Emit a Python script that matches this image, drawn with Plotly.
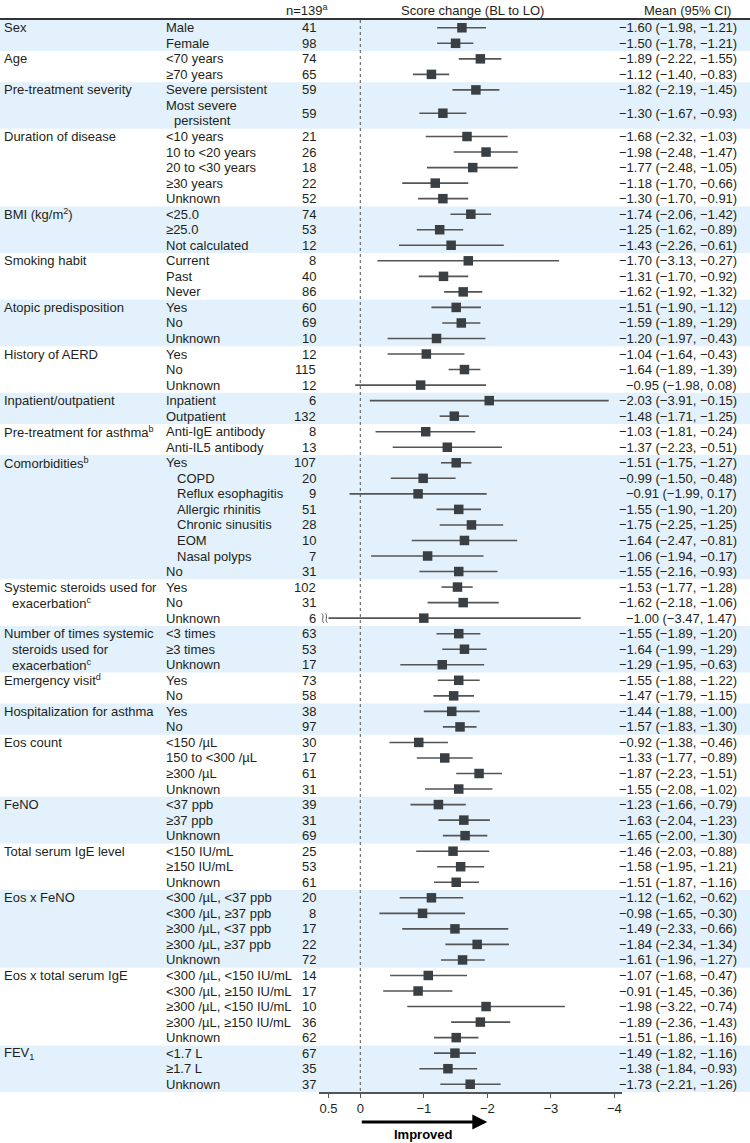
import plotly.graph_objects as go

# ---------------- data ----------------
group_labels = [
    "Sex", "Age", "Pre-treatment severity", "Duration of disease",
    "BMI (kg/m<sup>2</sup>)", "Smoking habit", "Atopic predisposition",
    "History of AERD", "Inpatient/outpatient", "Pre-treatment for asthma<sup>b</sup>",
    "Comorbidities<sup>b</sup>",
    "Systemic steroids used for|exacerbation<sup>c</sup>",
    "Number of times systemic|steroids used for|exacerbation<sup>c</sup>",
    "Emergency visit<sup>d</sup>", "Hospitalization for asthma", "Eos count",
    "FeNO", "Total serum IgE level", "Eos x FeNO", "Eos x total serum IgE",
    "FEV<sub>1</sub>",
]
group_sizes = [2, 2, 2, 5, 3, 3, 3, 3, 2, 2, 8, 3, 3, 2, 2, 4, 3, 3, 5, 5, 3]

subgroups = [
    "Male", "Female",
    "<70 years", "≥70 years",
    "Severe persistent", "Most severe persistent",
    "<10 years", "10 to <20 years", "20 to <30 years", "≥30 years", "Unknown",
    "<25.0", "≥25.0", "Not calculated",
    "Current", "Past", "Never",
    "Yes", "No", "Unknown",
    "Yes", "No", "Unknown",
    "Inpatient", "Outpatient",
    "Anti-IgE antibody", "Anti-IL5 antibody",
    "Yes", "COPD", "Reflux esophagitis", "Allergic rhinitis", "Chronic sinusitis",
    "EOM", "Nasal polyps", "No",
    "Yes", "No", "Unknown",
    "<3 times", "≥3 times", "Unknown",
    "Yes", "No",
    "Yes", "No",
    "<150 /µL", "150 to <300 /µL", "≥300 /µL", "Unknown",
    "<37 ppb", "≥37 ppb", "Unknown",
    "<150 IU/mL", "≥150 IU/mL", "Unknown",
    "<300 /µL, <37 ppb", "<300 /µL, ≥37 ppb", "≥300 /µL, <37 ppb", "≥300 /µL, ≥37 ppb", "Unknown",
    "<300 /µL, <150 IU/mL", "<300 /µL, ≥150 IU/mL", "≥300 /µL, <150 IU/mL", "≥300 /µL, ≥150 IU/mL", "Unknown",
    "<1.7 L", "≥1.7 L", "Unknown",
]

n_vals = [
    41, 98,
    74, 65,
    59, 59,
    21, 26, 18, 22, 52,
    74, 53, 12,
    8, 40, 86,
    60, 69, 10,
    12, 115, 12,
    6, 132,
    8, 13,
    107, 20, 9, 51, 28, 10, 7, 31,
    102, 31, 6,
    63, 53, 17,
    73, 58,
    38, 97,
    30, 17, 61, 31,
    39, 31, 69,
    25, 53, 61,
    20, 8, 17, 22, 72,
    14, 17, 10, 36, 62,
    67, 35, 37,
]

means = [
    -1.60, -1.50,
    -1.89, -1.12,
    -1.82, -1.30,
    -1.68, -1.98, -1.77, -1.18, -1.30,
    -1.74, -1.25, -1.43,
    -1.70, -1.31, -1.62,
    -1.51, -1.59, -1.20,
    -1.04, -1.64, -0.95,
    -2.03, -1.48,
    -1.03, -1.37,
    -1.51, -0.99, -0.91, -1.55, -1.75, -1.64, -1.06, -1.55,
    -1.53, -1.62, -1.00,
    -1.55, -1.64, -1.29,
    -1.55, -1.47,
    -1.44, -1.57,
    -0.92, -1.33, -1.87, -1.55,
    -1.23, -1.63, -1.65,
    -1.46, -1.58, -1.51,
    -1.12, -0.98, -1.49, -1.84, -1.61,
    -1.07, -0.91, -1.98, -1.89, -1.51,
    -1.49, -1.38, -1.73,
]

ci_low = [
    -1.98, -1.78,
    -2.22, -1.40,
    -2.19, -1.67,
    -2.32, -2.48, -2.48, -1.70, -1.70,
    -2.06, -1.62, -2.26,
    -3.13, -1.70, -1.92,
    -1.90, -1.89, -1.97,
    -1.64, -1.89, -1.98,
    -3.91, -1.71,
    -1.81, -2.23,
    -1.75, -1.50, -1.99, -1.90, -2.25, -2.47, -1.94, -2.16,
    -1.77, -2.18, -3.47,
    -1.89, -1.99, -1.95,
    -1.88, -1.79,
    -1.88, -1.83,
    -1.38, -1.77, -2.23, -2.08,
    -1.66, -2.04, -2.00,
    -2.03, -1.95, -1.87,
    -1.62, -1.65, -2.33, -2.34, -1.96,
    -1.68, -1.45, -3.22, -2.36, -1.86,
    -1.82, -1.84, -2.21,
]

ci_high = [
    -1.21, -1.21,
    -1.55, -0.83,
    -1.45, -0.93,
    -1.03, -1.47, -1.05, -0.66, -0.91,
    -1.42, -0.89, -0.61,
    -0.27, -0.92, -1.32,
    -1.12, -1.29, -0.43,
    -0.43, -1.39, 0.08,
    -0.15, -1.25,
    -0.24, -0.51,
    -1.27, -0.48, 0.17, -1.20, -1.25, -0.81, -0.17, -0.93,
    -1.28, -1.06, 1.47,
    -1.20, -1.29, -0.63,
    -1.22, -1.15,
    -1.00, -1.30,
    -0.46, -0.89, -1.51, -1.02,
    -0.79, -1.23, -1.30,
    -0.88, -1.21, -1.16,
    -0.62, -0.30, -0.66, -1.34, -1.27,
    -0.47, -0.36, -0.74, -1.43, -1.16,
    -1.16, -0.93, -1.26,
]

x_ticks = [0.5, 0, -1, -2, -3, -4]
x_tick_text = ["0.5", "0", "−1", "−2", "−3", "−4"]
header_n = "n=139<sup>a</sup>"
header_plot = "Score change (BL to LO)"
header_ci = "Mean (95% CI)"
arrow_label = "Improved"

comorbidity_items = {"COPD", "Reflux esophagitis", "Allergic rhinitis",
                     "Chronic sinusitis", "EOM", "Nasal polyps"}

# ---------------- layout constants ----------------
W, H = 750, 1143
TOP_PX, BOT_PX = 20, 1092
X_RANGE = [0.65, -4.12]
BREAK_X = 0.5
FONT = "Liberation Sans, Arial, sans-serif"
TXT = "#231F20"
BAND = "#E2F1FB"
FS = 13


def px(x):
    return x / W


def py(y):
    return 1 - y / H


def mfmt(v):
    return f"{v:.2f}".replace("-", "−")


# row geometry (in row units)
units = [2 if s == "Most severe persistent" else 1 for s in subgroups]
starts = []
acc = 0
for u in units:
    starts.append(acc)
    acc += u
total_units = acc
centers = [s + u / 2 for s, u in zip(starts, units)]

fig = go.Figure()

# CI lines
lx, ly = [], []
breaks = []
for i, (lo, hi) in enumerate(zip(ci_low, ci_high)):
    h = hi
    if hi > X_RANGE[0]:
        h = BREAK_X
        breaks.append(i)
    lx += [lo, h, None]
    ly += [centers[i], centers[i], None]
fig.add_trace(go.Scatter(x=lx, y=ly, mode="lines",
                         line=dict(color="#555555", width=1.6),
                         hoverinfo="skip", showlegend=False))
fig.add_trace(go.Scatter(x=means, y=centers, mode="markers",
                         marker=dict(symbol="square", size=9.5, color="#3A3F43",
                                     line=dict(width=0)),
                         hoverinfo="skip", showlegend=False))

shapes = []
annotations = []

# bands
g_start = 0
for gi, (gl, gs) in enumerate(zip(group_labels, group_sizes)):
    rows = list(range(g_start, g_start + gs))
    u0 = starts[rows[0]]
    u1 = starts[rows[-1]] + units[rows[-1]]
    if gi % 2 == 0:
        shapes.append(dict(type="rect", xref="paper", yref="y", x0=0, x1=1,
                           y0=u0, y1=u1, fillcolor=BAND, line=dict(width=0),
                           layer="below"))
    # group label lines
    for li, line in enumerate(gl.split("|")):
        annotations.append(dict(xref="paper", yref="y", x=px(2 if li == 0 else 10),
                                y=centers[rows[li]] if units[rows[li]] == 1 else starts[rows[li]] + 0.5,
                                text=line, showarrow=False, xanchor="left", yanchor="middle",
                                font=dict(size=FS, color=TXT, family=FONT)))
    g_start += gs

# row texts
for i, s in enumerate(subgroups):
    if s == "Most severe persistent":
        annotations.append(dict(xref="paper", yref="y", x=px(164), y=starts[i] + 0.5,
                                text="Most severe", showarrow=False, xanchor="left",
                                yanchor="middle", font=dict(size=FS, color=TXT, family=FONT)))
        annotations.append(dict(xref="paper", yref="y", x=px(172), y=starts[i] + 1.5,
                                text="persistent", showarrow=False, xanchor="left",
                                yanchor="middle", font=dict(size=FS, color=TXT, family=FONT)))
    else:
        xx = 175 if s in comorbidity_items else 164
        annotations.append(dict(xref="paper", yref="y", x=px(xx), y=centers[i],
                                text=s, showarrow=False, xanchor="left", yanchor="middle",
                                font=dict(size=FS, color=TXT, family=FONT)))
    annotations.append(dict(xref="paper", yref="y", x=px(318), y=centers[i],
                            text=str(n_vals[i]), showarrow=False, xanchor="right",
                            yanchor="middle", font=dict(size=FS, color=TXT, family=FONT)))
    annotations.append(dict(xref="paper", yref="y", x=px(739), y=centers[i],
                            text=f"{mfmt(means[i])} ({mfmt(ci_low[i])}, {mfmt(ci_high[i])})",
                            showarrow=False, xanchor="right", yanchor="middle",
                            font=dict(size=FS, color=TXT, family=FONT)))

# break marks
for i in breaks:
    c = centers[i]
    for xc in (0.59, 0.535):
        w = 0.035
        hh = 0.3
        shapes.append(dict(type="path", xref="x", yref="y",
                           path=f"M {xc + w/2},{c - hh} C {xc - w},{c - hh/2} {xc + w},{c + hh/2} {xc - w/2},{c + hh}",
                           line=dict(color="#555555", width=1)))

# zero reference line
shapes.append(dict(type="line", xref="x", yref="y", x0=0, x1=0, y0=0, y1=total_units,
                   line=dict(color="#555555", width=1, dash="dot"), layer="below"))
# header rule
shapes.append(dict(type="line", xref="paper", yref="paper", x0=0, x1=1,
                   y0=py(19), y1=py(19), line=dict(color="#333333", width=2)))

# headers
for txt, xx in ((header_n, 307), (header_plot, 472), (header_ci, 687)):
    annotations.append(dict(xref="paper", yref="paper", x=px(xx), y=py(10), text=txt,
                            showarrow=False, xanchor="center", yanchor="middle",
                            font=dict(size=FS, color=TXT, family=FONT)))

# improved arrow
annotations.append(dict(xref="x", yref="paper", x=-2, y=py(1122), ax=0, ay=0,
                        axref="x", ayref="pixel", text="", showarrow=True,
                        arrowhead=2, arrowsize=1.0, arrowwidth=3, arrowcolor="#000000"))
annotations.append(dict(xref="x", yref="paper", x=-1.0, y=py(1134), text=f"<b>{arrow_label}</b>",
                        showarrow=False, xanchor="center", yanchor="middle",
                        font=dict(size=FS, color="#000000", family=FONT)))

fig.update_layout(
    width=W, height=H,
    margin=dict(l=0, r=0, t=0, b=0),
    paper_bgcolor="white", plot_bgcolor="rgba(0,0,0,0)",
    shapes=shapes, annotations=annotations,
    xaxis=dict(domain=[px(319), px(622)], range=X_RANGE, tickvals=x_ticks,
               ticktext=x_tick_text, showline=True, linecolor="#555555", linewidth=1.5,
               ticks="outside", ticklen=4, tickcolor="#555555", tickwidth=1.2,
               showgrid=False, zeroline=False,
               tickfont=dict(size=FS, color=TXT, family=FONT)),
    yaxis=dict(domain=[py(BOT_PX), py(TOP_PX)], range=[total_units, 0], visible=False,
               showgrid=False, zeroline=False),
    showlegend=False,
)

fig.write_html(
    "out.html",
    config={"displayModeBar": False},
    post_script="document.body.style.margin='0';document.body.style.padding='0';"
                "document.body.style.overflow='hidden';",
)
